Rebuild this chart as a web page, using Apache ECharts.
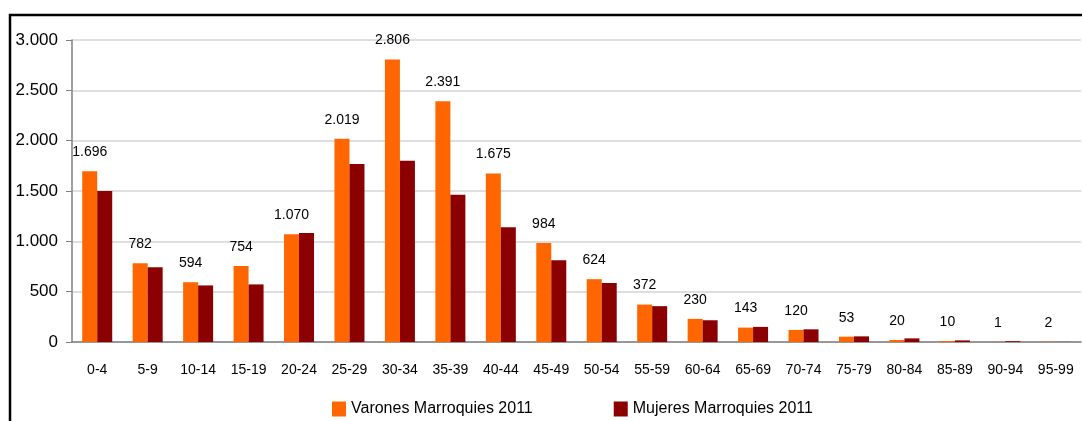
<!DOCTYPE html>
<html>
<head>
<meta charset="utf-8">
<script src="https://cdn.jsdelivr.net/npm/echarts@6/dist/echarts.min.js"></script>
<style>
  html, body { margin: 0; padding: 0; background: #fff; }
  #chart { width: 1082px; height: 421px; }
</style>
</head>
<body>
<div id="chart"></div>
<script>
// age groups and population counts
const ageGroups = ['0-4', '5-9', '10-14', '15-19', '20-24', '25-29', '30-34', '35-39', '40-44', '45-49',
  '50-54', '55-59', '60-64', '65-69', '70-74', '75-79', '80-84', '85-89', '90-94', '95-99']
const varones = [1696, 782, 594, 754, 1070, 2019, 2806, 2391, 1675, 984, 624, 372, 230, 143, 120, 53, 20, 10, 1, 2]
const mujeres = [1500, 742, 562, 572, 1082, 1768, 1800, 1462, 1140, 812, 586, 356, 216, 150, 126, 56, 36, 16, 8, 1]
const yTicks = [0, 500, 1000, 1500, 2000, 2500, 3000]

const font = 'Liberation Sans, Arial, sans-serif'

// spanish thousands separator
function fmt(v) {
  return String(v).replace(/\B(?=(\d{3})+(?!\d))/g, '.')
}

const chart = echarts.init(document.getElementById('chart'))

chart.setOption({
  animation: false,
  textStyle: { fontFamily: font },
  graphic: [{
    type: 'polyline',
    shape: { points: [[10, 421], [10, 15], [1082, 15]] },
    style: { stroke: '#000', lineWidth: 2.5, fill: null }
  }],
  grid: { left: 72, right: 1, top: 40, bottom: 79 },
  legend: {
    top: 401,
    left: 332,
    padding: 0,
    icon: 'rect',
    itemWidth: 14,
    itemHeight: 15,
    itemGap: 81,
    textStyle: { fontSize: 16, color: '#000', fontFamily: font },
    data: ['Varones Marroquies 2011', 'Mujeres Marroquies 2011']
  },
  xAxis: {
    type: 'category',
    data: ageGroups,
    axisLine: { lineStyle: { color: '#808080', width: 1.5 } },
    axisTick: { length: 5, lineStyle: { color: '#808080' } },
    axisLabel: { color: '#000', fontSize: 14, margin: 21, fontFamily: font }
  },
  yAxis: {
    type: 'value',
    min: yTicks[0],
    max: yTicks[yTicks.length - 1],
    interval: 500,
    axisLine: { show: true, lineStyle: { color: '#808080', width: 1.5 } },
    axisTick: { show: true, length: 6, lineStyle: { color: '#808080' } },
    axisLabel: { color: '#000', fontSize: 17, margin: 14, formatter: fmt, fontFamily: font },
    splitLine: { lineStyle: { color: '#d4d4d4', width: 1.5 } }
  },
  series: [
    {
      name: 'Varones Marroquies 2011',
      type: 'bar',
      data: varones,
      barWidth: 15,
      barGap: '0%',
      itemStyle: { color: '#ff6600' },
      label: {
        show: true,
        position: 'top',
        distance: 12,
        color: '#000',
        fontSize: 14,
        fontFamily: font,
        formatter: p => fmt(p.value)
      }
    },
    {
      name: 'Mujeres Marroquies 2011',
      type: 'bar',
      data: mujeres,
      barWidth: 15,
      itemStyle: { color: '#8b0000' }
    }
  ]
})
</script>
</body>
</html>
